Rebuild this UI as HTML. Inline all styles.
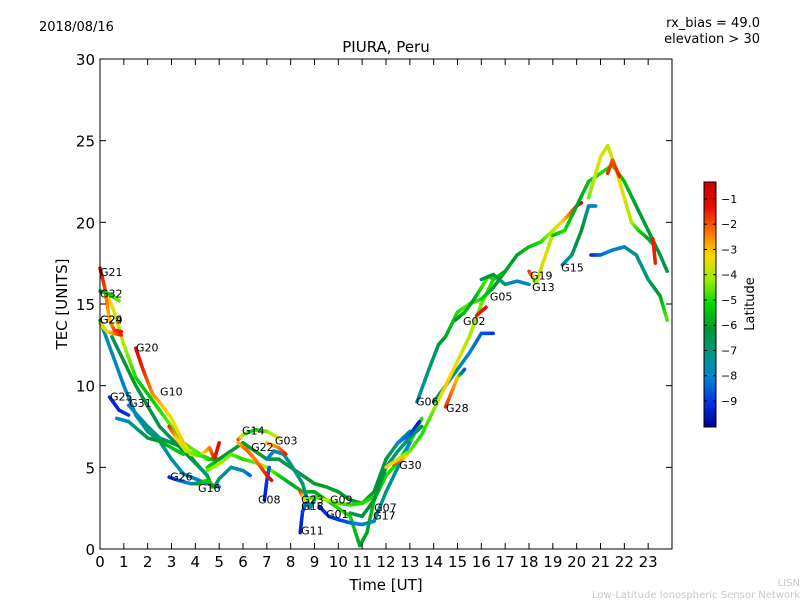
<!DOCTYPE html>
<html><head><meta charset="utf-8"><style>
body{margin:0;background:#fff;}
svg{display:block;font-family:"DejaVu Sans","Liberation Sans",sans-serif;}
</style></head><body>
<svg id="c" width="800" height="600" xmlns="http://www.w3.org/2000/svg">
<rect width="800" height="600" fill="#fff"/>
<text x="39" y="31" font-size="13">2018/08/16</text>
<text x="760" y="27" font-size="13" text-anchor="end">rx_bias = 49.0</text>
<text x="760" y="43" font-size="13" text-anchor="end">elevation &gt; 30</text>
<text x="386" y="52" font-size="15" text-anchor="middle">PIURA, Peru</text>
<text x="386" y="590" font-size="15" text-anchor="middle">Time [UT]</text>
<text x="67" y="304" font-size="15" text-anchor="middle" transform="rotate(-90 67 304)">TEC [UNITS]</text>
<text x="754" y="304" font-size="13" text-anchor="middle" transform="rotate(-90 754 304)">Latitude</text>
<text x="800" y="586" font-size="10" fill="#c8c8c8" text-anchor="end">LISN</text>
<text x="800" y="598" font-size="10" fill="#c8c8c8" text-anchor="end">Low-Latitude Ionospheric Sensor Network</text>
<g id="plot"></g>
<g id="cbar"></g>
</svg>
<script>
const xTicks=[0,1,2,3,4,5,6,7,8,9,10,11,12,13,14,15,16,17,18,19,20,21,22,23];
const yTicks=[0,5,10,15,20,25,30];
const cbTicks=[-1,-2,-3,-4,-5,-6,-7,-8,-9];
const latMin=-10.03, latMax=-0.33;
// tracks: [time, tec, latitude]
const tG21=[[0,17.2,-1.2],[0.2,16,-1.8],[0.4,14,-3],[0.6,13.4,-2],[0.9,13.3,-1.3]];
const tG32=[[0,15.8,-6],[0.4,15.6,-5.5],[0.8,15.2,-4.5]];
const tG24=[[0.3,15.6,-3],[0.6,14.5,-3.5],[1,12.5,-4],[1.5,10.5,-5],[2,9.5,-5.5],[2.5,8.5,-5],[3,7.5,-4.5],[3.5,6.5,-4.8],[4,6,-4.5],[4.5,5.5,-5],[5,5.5,-6]];
const tG29=[[0,14,-7.5],[0.5,12,-7.8],[1,10,-8],[1.5,8.2,-7.5],[2,7.2,-7],[2.5,6.6,-7.2],[3,5.5,-7.5],[3.5,4.6,-7.8],[4,4.3,-8],[4.5,4,-8.2],[5,3.8,-8.5]];
const tG29b=[[0,13.8,-4],[0.3,13.3,-3.5],[0.6,13.2,-2.5],[0.9,13.1,-1.5]];
const tDark=[[0.5,13,-6.5],[1.5,10,-6],[2.5,7.5,-6.5],[3.5,6,-6.5],[4.5,4.5,-6.5],[4.7,3.8,-5]];
const tG20=[[1.5,12.3,-1.2],[1.8,11,-1.5],[2.2,9.5,-2.5],[2.6,8.8,-3],[3,8,-3.5],[3.5,6.5,-3],[3.8,5.8,-3.5],[4.2,5.7,-4],[4.6,6.2,-2.5],[4.8,5.5,-1.5],[5,6.5,-1.2]];
const tG10=[[2.9,7.5,-1.5],[3.2,6.8,-3],[3.6,6,-4],[4,5.8,-4.5],[4.5,5.6,-5]];
const tG25=[[0.4,9.3,-9.2],[0.8,8.5,-9.3],[1.2,8.2,-9]];
const tG25b=[[0.7,8,-8],[1.2,7.8,-7.5],[2,6.8,-6.5],[2.5,6.6,-6],[3,6.2,-5.5],[3.5,5.8,-5.5]];
const tG31=[[1.2,8.8,-8],[2,7.5,-7.5],[2.5,6.8,-7],[3,6.5,-6.5],[3.5,6.2,-6],[4,5.3,-6.5],[4.5,4.5,-7]];
const tG26=[[2.9,4.4,-9.5],[3.3,4.2,-8.5],[3.8,4,-8],[4.2,4,-7]];
const tG16=[[4,4,-6.5],[4.5,4.2,-5],[4.8,3.8,-6],[5,4.3,-7],[5.5,5,-7.5],[6,4.8,-7.5],[6.3,4.5,-8.5]];
const tG14=[[5.8,6.7,-1.5],[6,7,-4],[6.5,7.3,-5.5],[7,7.2,-4.5],[7.5,6.8,-3.5]];
const tG03=[[7,6.5,-3],[7.5,6.2,-2.5],[7.8,5.8,-1.5]];
const tG22=[[5.8,6.5,-3],[6.2,6,-2],[6.5,5.5,-2.5],[7,4.5,-1.5],[7.2,4.2,-1.3]];
const tGreenA=[[4.5,5,-5],[5,5.5,-6],[5.5,6,-6.5],[6,6.5,-6],[6.5,6,-6],[7,5.5,-6],[7.5,5.5,-6.5],[8,5,-6.5],[8.5,4.5,-6.5],[9,4,-6],[9.5,3.8,-6],[10,3.5,-6],[10.5,3,-6],[11,2.8,-6],[11.5,3.5,-6],[12,5.5,-6.5],[12.5,6.5,-7],[13,7.2,-7.2]];
const tGreenB=[[4.5,4.8,-4.5],[5,5.2,-4],[5.5,5.8,-4.5],[6,5.5,-5],[6.5,5.3,-4.5],[7,5,-4],[7.5,4.5,-5],[8,4,-6],[8.5,3.5,-5.5],[9,3.5,-6],[9.5,3,-5.5],[10,2.5,-5],[10.5,2,-5],[10.9,0.2,-6],[11.2,1,-6],[11.5,3,-5.5],[12,4.5,-5],[12.5,5.3,-5],[13,6.5,-5],[13.5,8,-5]];
const tG08=[[6.9,3,-9.5],[7,4.2,-9],[7.1,5,-8.5]];
const tG08b=[[7,5.5,-8],[7.3,6,-8],[7.7,5.8,-7.5],[8,5.2,-7],[8.5,4,-7],[8.8,2.5,-7.5],[9,3,-7]];
const tG11=[[8.4,1,-9.5],[8.5,2.3,-9],[8.7,3,-8]];
const tG18=[[8.4,3.5,-1.5],[8.6,3,-4],[9,3.2,-5],[9.5,3,-4],[10,2.8,-4.5],[10.5,2.7,-5],[11,2.8,-5],[11.5,3.2,-5]];
const tG01=[[9.2,2.6,-9.5],[9.6,2,-9],[10,1.8,-9],[10.5,1.6,-8.5],[11,1.5,-8],[11.5,1.7,-7.5],[12,3.5,-7],[12.5,5,-7.5],[13,6.5,-8]];
const tG07=[[10.5,2.2,-6.5],[11,2,-6.5],[11.5,3,-6],[12,5,-6.5],[12.5,6,-7],[13,6.8,-7],[13.5,7.5,-6.5]];
const tG30=[[12.5,6.5,-8],[13,7,-8.5],[13.4,7.8,-9.5]];
const tG30b=[[12.3,5.2,-1.5],[12.7,5.5,-2.5],[12.9,5.8,-3.5]];
const tG06=[[13.3,9,-7.5],[13.8,11,-7],[14.2,12.5,-6.5],[14.5,13,-6],[15,14.5,-5],[15.5,15,-4.5],[16,15.3,-5],[16.5,16,-6],[17,17,-6],[17.5,18,-6],[18,18.5,-5.5],[18.5,18.8,-5],[19,19.5,-4],[19.5,20.2,-3],[20,21,-1.5],[20.2,21.2,-1.2]];
const tG02=[[14.9,14,-6.5],[15.3,14.5,-5.5],[15.7,15.3,-6],[16,16,-5],[16.3,16.7,-4.5],[16.5,16.5,-5],[17,17,-6]];
const tG02b=[[15.8,14.3,-1.5],[16.2,14.8,-1.3]];
const tG05=[[16,16.5,-7],[16.5,16.8,-6],[17,16.2,-7],[17.5,16.4,-8],[18,16.2,-8]];
const tG19=[[18,17,-1.5],[18.2,16.5,-3],[18.3,16.3,-7]];
const tG15=[[18.3,16.3,-4],[18.7,18,-3.5],[19,19.3,-4]];
const tG15b=[[19.4,17.4,-8.5],[19.8,18,-7],[20.2,19.5,-6],[20.5,21,-7.5],[20.8,21,-8]];
const tG28=[[12,5,-3],[12.5,5.5,-3.5],[13,6,-4.5],[13.5,7,-5],[14,8.5,-4.5],[14.5,10,-3],[15,11.5,-3.5],[15.5,13,-4],[16,15,-4.5],[16.5,16.5,-5]];
const tG28b=[[14.5,8.7,-1.5],[15,10.5,-3],[15.3,11,-9]];
const tTeal=[[14,9,-7],[14.5,10,-7],[15,11,-7.5],[15.5,12,-8],[16,13.2,-8.5],[16.5,13.2,-9]];
const tPeakG=[[19,19.2,-5.5],[19.5,19.5,-5],[20,21,-6],[20.5,22.5,-5.5],[21,23,-5],[21.5,23.5,-5],[22,22.5,-5.5],[22.5,21,-6],[23,19.5,-6],[23.5,18,-6.5],[23.8,17,-6.5]];
const tPeakY=[[20.5,21.5,-4.5],[21,24,-3.5],[21.3,24.7,-3.8],[21.6,23.5,-3.5],[22,21.5,-3.5],[22.3,20,-4],[22.6,19.5,-5],[23,19,-6],[23.3,18.5,-6]];
const tPeakR=[[21.3,23,-1.5],[21.5,23.8,-2],[21.8,22.8,-1.5]];
const tLateB=[[20.6,18,-9.3],[21,18,-8.5],[21.5,18.3,-8],[22,18.5,-8],[22.5,18,-7],[23,16.5,-7],[23.5,15.5,-6],[23.8,14,-4.5]];
const tLateR=[[23.2,19,-1.5],[23.3,17.5,-1.5]];
const tracks=[tG29,tDark,tG31,tG25b,tG25,tG24,tG29b,tG21,tG32,tG20,tG10,tG26,tG16,tGreenA,tGreenB,tG08b,tG08,tG14,tG22,tG03,tG11,tG18,tG01,tG07,tG30,tG30b,tTeal,tG28,tG28b,tG06,tG02,tG02b,tG05,tG19,tG15,tG15b,tPeakG,tPeakY,tPeakR,tLateB,tLateR];
const labNames=["G21","G32","G29","G24","G20","G25","G31","G10","G26","G16","G14","G22","G03","G08","G23","G18","G11","G09","G01","G07","G17","G30","G06","G28","G02","G05","G19","G13","G15"];
const labT=[0,0,0,0,1.51,0.42,1.22,2.52,2.94,4.11,5.96,6.34,7.34,6.63,8.44,8.44,8.44,9.65,9.48,11.5,11.46,12.55,13.26,14.52,15.23,16.36,18.04,18.13,19.35];
const labV=[16.7,15.4,13.8,13.8,12.1,9.1,8.7,9.4,4.2,3.5,7.0,6.0,6.4,2.8,2.8,2.4,0.9,2.8,1.9,2.3,1.8,4.9,8.8,8.4,13.7,15.2,16.5,15.8,17.0];

const L=100,R=672,T=59,B=549;
const X=t=>L+t*(R-L)/24;
const Y=v=>B-v*(B-T)/30;
const CT=182,CB=427;
const CY=l=>CB-(l-latMin)/(latMax-latMin)*(CB-CT);
const cmapStops=[[0,0,0,140],[0.1,0,50,230],[0.2,0,130,210],[0.3,0,150,130],[0.4,0,150,50],[0.5,0,215,0],[0.6,150,240,0],[0.7,255,215,0],[0.8,255,110,0],[0.9,230,10,0],[1,200,0,0]];
function jet(l){
  let v=(l-latMin)/(latMax-latMin);v=Math.max(0,Math.min(1,v));
  for(let i=0;i<cmapStops.length-1;i++){
    const a=cmapStops[i],b=cmapStops[i+1];
    if(v<=b[0]){const s=(v-a[0])/(b[0]-a[0]);
      return `rgb(${Math.round(a[1]+(b[1]-a[1])*s)},${Math.round(a[2]+(b[2]-a[2])*s)},${Math.round(a[3]+(b[3]-a[3])*s)})`;}
  }
  return 'rgb(200,0,0)';
}
const NS="http://www.w3.org/2000/svg";
const plot=document.getElementById('plot');
function mk(tag,attrs,parent){const e=document.createElementNS(NS,tag);for(const k in attrs)e.setAttribute(k,attrs[k]);parent.appendChild(e);return e;}
tracks.forEach((tr,i)=>{
  const g=mk('g',{},plot);
  
  
  for(let j=0;j<tr.length-1;j++){
    const a=tr[j],b=tr[j+1],n=6;
    for(let k=0;k<n;k++){
      const s0=k/n,s1=(k+1)/n;
      mk('line',{x1:X(a[0]+(b[0]-a[0])*s0),y1:Y(a[1]+(b[1]-a[1])*s0),x2:X(a[0]+(b[0]-a[0])*s1),y2:Y(a[1]+(b[1]-a[1])*s1),stroke:jet(a[2]+(b[2]-a[2])*(s0+s1)/2),'stroke-width':3.5,'stroke-linecap':'round'},g);
    }
  }
});
labNames.forEach((n,i)=>{
  const t=mk('text',{x:X(labT[i]),y:Y(labV[i]),'font-size':11},plot);
  
  
  t.textContent=n;
});
const fr=mk('rect',{x:L,y:T,width:R-L,height:B-T,fill:'none',stroke:'#000','stroke-width':1},plot);


xTicks.forEach(t=>{
  mk('line',{x1:X(t),y1:B,x2:X(t),y2:B-6,stroke:'#000'},plot);
  mk('line',{x1:X(t),y1:T,x2:X(t),y2:T+6,stroke:'#000'},plot);
  const tx=mk('text',{x:X(t),y:B+18,'font-size':15,'text-anchor':'middle'},plot);
  
  
  tx.textContent=t;
});
yTicks.forEach(v=>{
  mk('line',{x1:L,y1:Y(v),x2:L+6,y2:Y(v),stroke:'#000'},plot);
  mk('line',{x1:R,y1:Y(v),x2:R-6,y2:Y(v),stroke:'#000'},plot);
  const tx=mk('text',{x:L-5,y:Y(v)+6,'font-size':15,'text-anchor':'end'},plot);
  
  
  tx.textContent=v;
});
const cb=document.getElementById('cbar');
for(let y=CT;y<CB;y++){
  mk('rect',{x:704,y:y,width:12,height:1.2,fill:jet(latMin+(CB-y-0.5)/(CB-CT)*(latMax-latMin))},cb);
}
const cbf=mk('rect',{x:704,y:CT,width:12,height:CB-CT,fill:'none',stroke:'#000'},cb);


cbTicks.forEach(l=>{
  mk('line',{x1:704,y1:CY(l),x2:707,y2:CY(l),stroke:'#000'},cb);
  mk('line',{x1:716,y1:CY(l),x2:713,y2:CY(l),stroke:'#000'},cb);
  const tx=mk('text',{x:721,y:CY(l)+4,'font-size':11},cb);
  
  
  tx.textContent='\u2212'+Math.abs(l);
});
</script>
</body></html>
